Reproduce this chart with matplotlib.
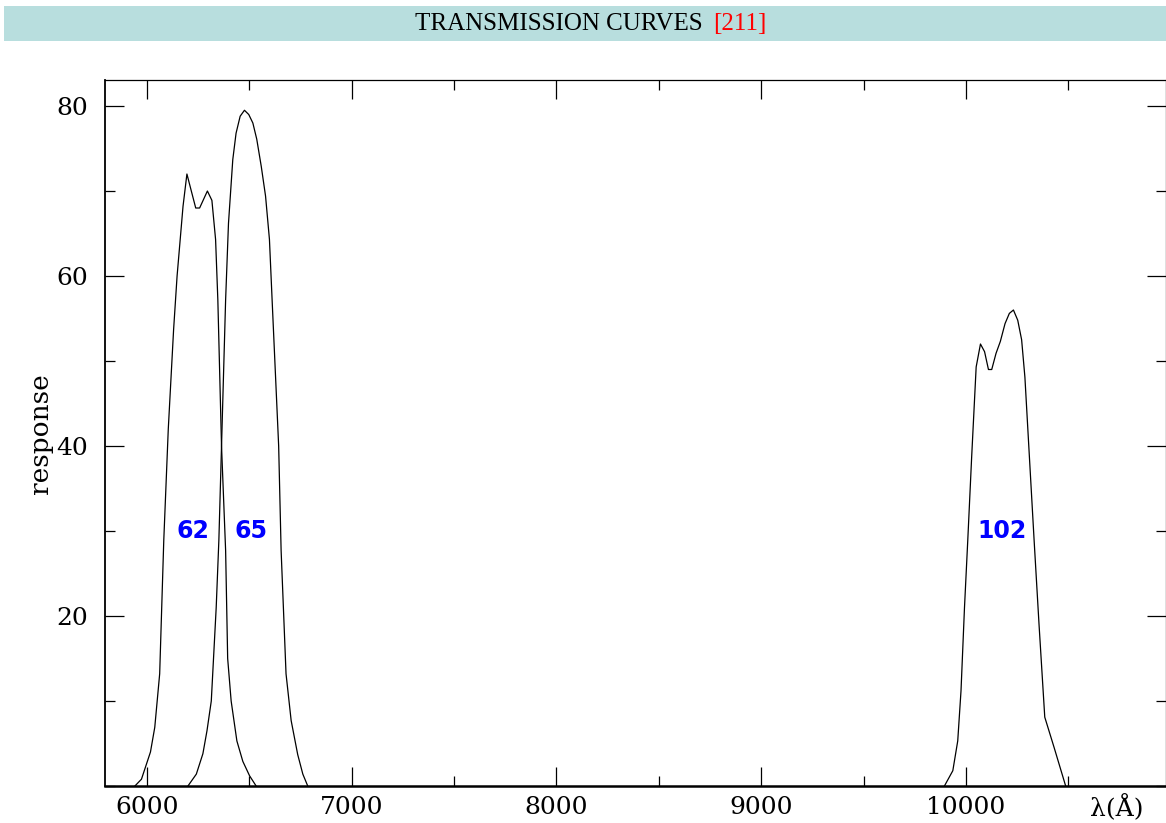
import matplotlib
matplotlib.use("Agg")
import matplotlib.pyplot as plt
from matplotlib.patches import Rectangle
from matplotlib.ticker import MultipleLocator

# filter transmission curves: wavelength (Angstrom) vs response
wave_62 = [5942, 5974, 6018, 6039, 6063, 6083, 6105, 6131, 6148, 6177, 6196, 6239, 6258,
           6296, 6318, 6336, 6347, 6365, 6385, 6395, 6412, 6440, 6469, 6502, 6534]
resp_62 = [0, 0.8, 4, 6.9, 13.2, 28.9, 42, 53.7, 60, 68.2, 72.0, 68.0, 68.0,
           70.0, 68.9, 64.3, 57.2, 40, 27.7, 15, 10, 5.3, 2.9, 1.2, 0]

wave_65 = [6201, 6242, 6274, 6294, 6315, 6339, 6352, 6365, 6385, 6399, 6420, 6436, 6456,
           6477, 6498, 6518, 6537, 6559, 6580, 6599, 6612, 6644, 6656, 6680, 6705,
           6737, 6762, 6786]
resp_65 = [0, 1.4, 3.8, 6.5, 10, 21, 28.9, 40, 57.2, 66.2, 73.7, 76.8, 78.8,
           79.5, 79.0, 78.0, 76.1, 72.9, 69.4, 64.3, 57.2, 40, 27.7, 13.2, 7.7,
           3.7, 1.4, 0]

wave_102 = [9895, 9936, 9960, 9976, 9993, 10009, 10028, 10050, 10071, 10091, 10110, 10126,
            10147, 10168, 10191, 10212, 10232, 10253, 10272, 10288, 10310, 10333, 10357,
            10385, 10431, 10487]
resp_102 = [0, 1.8, 5.3, 11.2, 21, 28.9, 38.7, 49.3, 52.0, 51.1, 49.0, 49.0,
            50.9, 52.3, 54.4, 55.6, 56.0, 54.8, 52.5, 48.1, 38.7, 28.9, 19,
            8.1, 4.5, 0]

labels = ["62", "65", "102"]
label_x = [6224, 6507, 10174]
label_y = 30

fig = plt.figure(figsize=(11.66, 8.23), dpi=100)

# title banner
fig.patches.append(Rectangle((4 / 1166, 1 - 41 / 823), 1162 / 1166, 35 / 823,
                             transform=fig.transFigure, facecolor="#b8dede",
                             edgecolor="none", zorder=0))
fig.text(415 / 1166, 1 - 24 / 823, "TRANSMISSION CURVES", family="Liberation Serif",
         fontsize=18, color="black", ha="left", va="center")
fig.text(713 / 1166, 1 - 24 / 823, "[211]", family="Liberation Serif",
         fontsize=18, color="red", ha="left", va="center")

ax = fig.add_axes([105 / 1166, 1 - 786 / 823, 1061 / 1166, 706 / 823])

for w, r in [(wave_62, resp_62), (wave_65, resp_65), (wave_102, resp_102)]:
    ax.plot(w, r, color="black", linewidth=0.9)

for lab, lx in zip(labels, label_x):
    ax.text(lx, label_y, lab, color="blue", fontsize=17, fontweight="bold",
            family="DejaVu Sans", ha="center", va="center")

ax.set_xlim(5796, 10977)
ax.set_ylim(0, 83.06)

ax.xaxis.set_major_locator(MultipleLocator(1000))
ax.xaxis.set_minor_locator(MultipleLocator(500))
ax.yaxis.set_minor_locator(MultipleLocator(10))
ax.set_yticks([20, 40, 60, 80])
ax.set_xticks([6000, 7000, 8000, 9000, 10000])

ax.tick_params(which="both", direction="in", top=True, right=True, width=0.9)
ax.tick_params(which="major", length=14, labelsize=18)
ax.tick_params(axis="x", which="major", pad=7)
ax.tick_params(axis="y", which="major", pad=12)
ax.tick_params(which="minor", length=7)
for lbl in ax.get_xticklabels() + ax.get_yticklabels():
    lbl.set_family("DejaVu Serif")

for s in ax.spines.values():
    s.set_linewidth(0.9)
ax.spines["bottom"].set_linewidth(1.8)
ax.spines["left"].set_linewidth(1.3)

ax.text(10737, -1.0, "λ(Å)", family="DejaVu Serif", fontsize=18,
        ha="center", va="top")
fig.text(40 / 1166, 1 - 434 / 823, "response", family="DejaVu Serif", fontsize=19,
         rotation=90, ha="center", va="center")

fig.savefig("out.png", dpi=100)
